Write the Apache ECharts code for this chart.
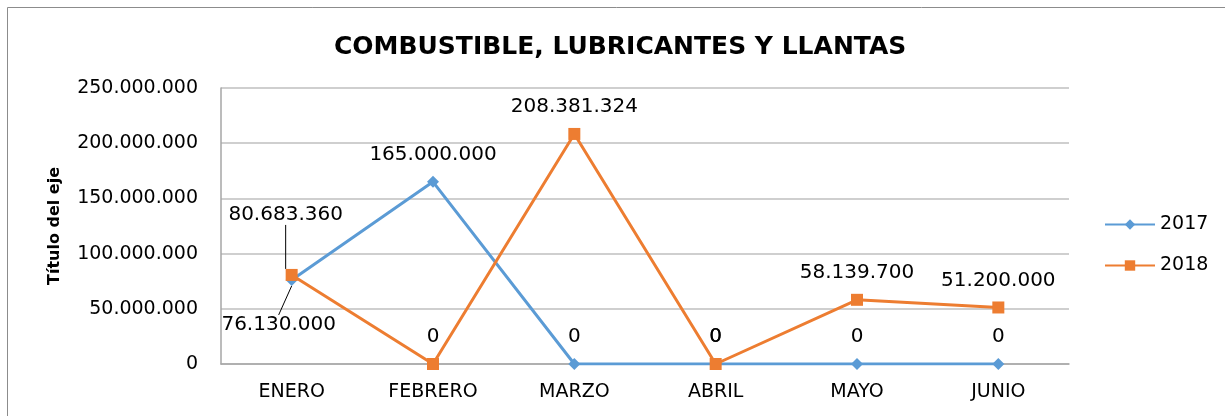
<!DOCTYPE html>
<html>
<head>
<meta charset="utf-8">
<script src="https://cdn.jsdelivr.net/npm/echarts@6/dist/echarts.min.js"></script>
<style>
  html, body { margin: 0; padding: 0; background: #fff; }
  #chart { width: 1225px; height: 416px; }
</style>
</head>
<body>
<div id="chart"></div>
<script>
  const months = ['ENERO', 'FEBRERO', 'MARZO', 'ABRIL', 'MAYO', 'JUNIO'];
  const values2017 = [76130000, 165000000, 0, 0, 0, 0];
  const values2018 = [80683360, 0, 208381324, 0, 58139700, 51200000];

  const fmt = v => String(v).replace(/\B(?=(\d{3})+(?!\d))/g, '.');
  const font = 'DejaVu Sans';

  const chart = echarts.init(document.getElementById('chart'));

  const option = {
    backgroundColor: '#fff',
    animation: false,
    textStyle: { fontFamily: font },
    graphic: [{
      type: 'rect',
      shape: { x: 7.5, y: 7.5, width: 1300, height: 500 },
      style: { fill: 'none', stroke: '#8c8c8c', lineWidth: 1 },
      silent: true
    }],
    title: {
      text: 'COMBUSTIBLE, LUBRICANTES Y LLANTAS',
      left: 329,
      top: 30,
      textStyle: { fontFamily: font, fontSize: 25, fontWeight: 'bold', color: '#000' }
    },
    legend: {
      orient: 'vertical',
      left: 1099,
      top: 210,
      itemGap: 22,
      itemWidth: 50,
      itemHeight: 13,
      textStyle: { fontFamily: font, fontSize: 19, color: '#000' },
      data: ['2017', '2018']
    },
    grid: { left: 221, right: 156, top: 88, bottom: 52 },
    xAxis: {
      type: 'category',
      data: months,
      boundaryGap: true,
      axisLine: { lineStyle: { color: '#a6a6a6', width: 1.5 } },
      axisTick: { show: false },
      axisLabel: { color: '#000', fontSize: 19, margin: 19, fontFamily: font }
    },
    yAxis: {
      type: 'value',
      min: 0,
      max: 250000000,
      interval: 50000000,
      name: 'Título del eje',
      nameLocation: 'middle',
      nameGap: 158,
      nameTextStyle: { fontFamily: font, fontSize: 16, fontWeight: 'bold', color: '#000' },
      axisLine: { show: true, lineStyle: { color: '#a6a6a6', width: 1.5 } },
      axisTick: { show: false },
      splitLine: { lineStyle: { color: '#bfbfbf', width: 1.5 } },
      axisLabel: { color: '#000', fontSize: 19, margin: 23, formatter: fmt, fontFamily: font }
    },
    series: [
      {
        name: '2017',
        type: 'line',
        data: values2017.map((v, i) => i === 0
          ? { value: v, label: { position: 'bottom' }, labelLine: { show: true } }
          : v),
        color: '#5B9BD5',
        symbol: 'diamond',
        symbolSize: 12,
        lineStyle: { width: 3 },
        label: {
          show: true, position: 'top', distance: 11,
          color: '#000', fontSize: 20, fontFamily: font,
          formatter: p => fmt(p.value)
        },
        labelLine: { show: false, lineStyle: { color: '#000', width: 1 } },
        labelLayout: p => p.dataIndex === 0 ? { dx: -13, dy: 18 } : {}
      },
      {
        name: '2018',
        type: 'line',
        data: values2018.map((v, i) => i === 0
          ? { value: v, labelLine: { show: true } }
          : v),
        color: '#ED7D31',
        symbol: 'rect',
        symbolSize: 12,
        lineStyle: { width: 3 },
        label: {
          show: true, position: 'top', distance: 11,
          color: '#000', fontSize: 20, fontFamily: font,
          formatter: p => fmt(p.value)
        },
        labelLine: { show: false, lineStyle: { color: '#000', width: 1 } },
        labelLayout: p => p.dataIndex === 0 ? { dx: -6, dy: -33 } : {}
      }
    ]
  };

  chart.setOption(option);
</script>
</body>
</html>
